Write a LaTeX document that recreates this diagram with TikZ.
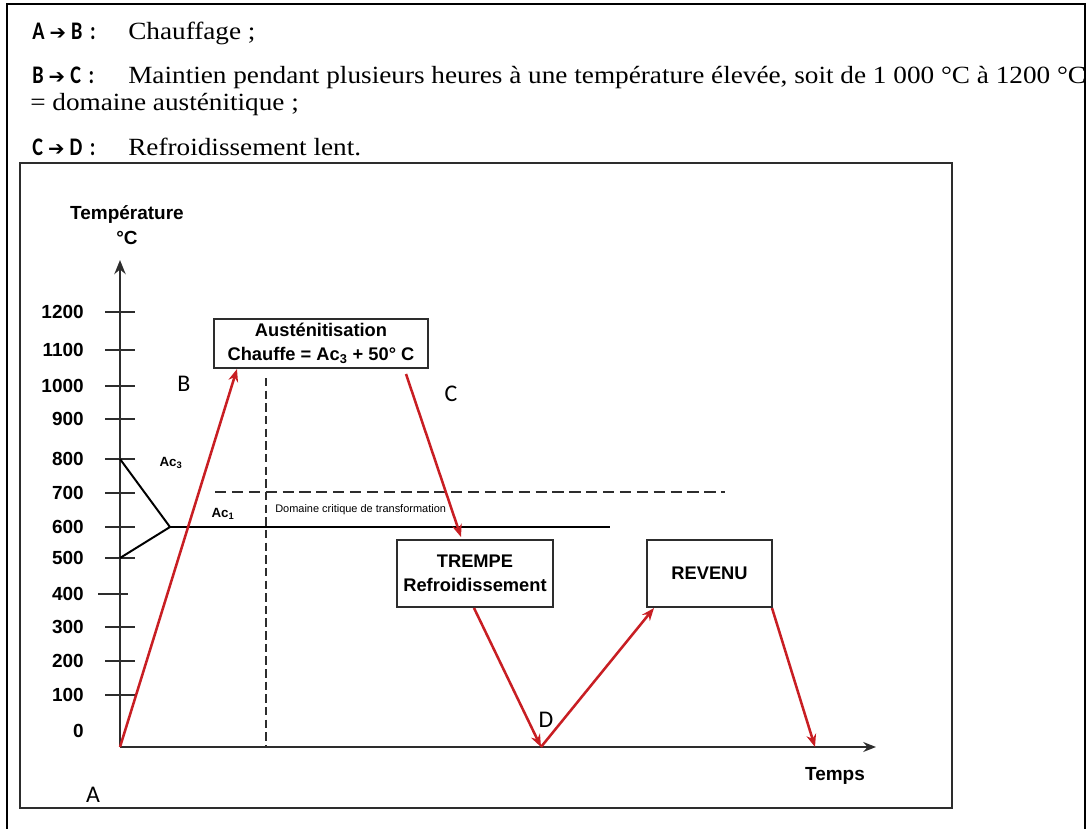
\documentclass[tikz,border=0pt]{standalone}
\usepackage{fontspec}
\setmainfont{Liberation Serif}[FakeStretch=1.1]
\newfontfamily\arialfont{Liberation Sans}
\newfontfamily\calfont{Carlito}
\newfontfamily\calcond{Carlito}[FakeStretch=0.8]
\newfontfamily\symfont{DejaVu Sans}
\usetikzlibrary{arrows.meta,calc}
\definecolor{fleche}{RGB}{200,30,35}
\definecolor{trait}{RGB}{45,45,45}
\newcommand{\etape}[2]{{\calcond\bfseries\fontsize{18}{21}\selectfont #1\hspace{0.2em}{\symfont\bfseries\fontsize{14}{16}\selectfont ➔}\hspace{0.2em}#2\hspace{0.3em}:}}

\begin{document}
\begin{tikzpicture}[x=0.025cm,y=-0.025cm,
                    every node/.style={inner sep=0pt},
                    cadre/.style={draw=trait,line width=1.3pt},
                    boite/.style={draw=trait,line width=1.4pt,align=center,
                                  font=\arialfont\bfseries\fontsize{13}{17}\selectfont},
                    axe/.style={draw=trait,line width=1.6pt},
                    grad/.style={anchor=east,font=\arialfont\bfseries\fontsize{13.5}{16}\selectfont},
                    petit/.style={font=\arialfont\bfseries\fontsize{9.5}{11}\selectfont},
                    rouge/.style={draw=fleche,line width=1.8pt,-{Stealth[length=9pt,width=7pt]}},
                    lettre/.style={font=\calfont\fontsize{17}{20}\selectfont},
                    texte/.style={anchor=base west,font=\fontsize{17.6}{21}\selectfont}]

  \useasboundingbox (0,0) rectangle (1086,829);
  \draw[line width=1.2pt] (7,829) -- (7,4) -- (1085,4) -- (1085,829);

  \node[texte] (etAB) at (32,39) {\etape{A}{B}};
  \node[texte] (txAB) at (128,39) {Chauffage ;};
  \node[texte] (etBC) at (32,83) {\etape{B}{C}};
  \node[texte] (txBC) at (128,83) {Maintien pendant plusieurs heures à une température élevée, soit de 1 000 °C à 1200 °C};
  \node[texte] (txBC2) at (30,110) {= domaine austénitique ;};
  \node[texte] (etCD) at (32,155) {\etape{C}{D}};
  \node[texte] (txCD) at (128,155) {Refroidissement lent.};

  \draw[cadre] (20,163) rectangle (952,808);

  \coordinate (A) at (120,747);
  \coordinate (D) at (541,747);
  \coordinate (E) at (815,747);
  \draw[axe,-{Stealth[length=10pt,width=8pt]}] (A) -- (120,260);
  \draw[axe,-{Stealth[length=9pt,width=7pt]}] (A) -- (876,747);
  \node[font=\arialfont\bfseries\fontsize{13.5}{16}\selectfont] (temp) at (127,215) {Température};
  \node[font=\arialfont\bfseries\fontsize{13.5}{16}\selectfont] (degre) at (127,238) {°C};
  \node[font=\arialfont\bfseries\fontsize{13.5}{16}\selectfont] (temps) at (835,776) {Temps};

  \foreach \v/\y/\dx in {1200/312/0,1100/350/0,1000/386/0,900/419/0,800/459/0,700/493/0,
                         600/527/0,500/558/0,400/594/-7,300/627/0,200/661/0,100/695/0}
    {
      \draw[trait,line width=1.5pt] (105+\dx,\y) -- (135+\dx,\y);
      \node[grad] (t\v) at (84,\y) {\v};
    }
  \node[grad] (t0) at (84,731) {0};

  \coordinate (ac3) at (120,459);
  \coordinate (ac1) at (120,558);
  \coordinate (pointe) at (170,527);
  \coordinate (finac) at (610,527);
  \draw[black,line width=1.4pt] (ac3) -- (pointe) -- (ac1);
  \draw[black,line width=1.4pt] (pointe) -- (finac);
  \draw[trait,line width=1.5pt,dash pattern=on 8pt off 4pt] (215,492) -- (725,492);
  \draw[trait,line width=1.5pt,dash pattern=on 6pt off 3pt] (266,378) -- (266,747);
  \node[petit] (lac3) at (171,463) {Ac\textsubscript{3}};
  \node[petit] (lac1) at (223,514) {Ac\textsubscript{1}};
  \node[anchor=west,font=\arialfont\fontsize{7.8}{9}\selectfont] (domaine) at (275,510)
    {Domaine critique de transformation};

  \node[boite,minimum width=5.35cm,minimum height=1.225cm] (aust) at (321,343.5)
    {Austénitisation\\Chauffe = Ac\textsubscript{3} + 50° C};
  \node[boite,minimum width=3.9cm,minimum height=1.675cm] (trempe) at (475,573.5)
    {TREMPE\\Refroidissement};
  \node[boite,minimum width=3.125cm,minimum height=1.675cm] (revenu) at (709.5,573.5)
    {REVENU};

  \draw[rouge] (A) -- ($(aust.south west)+(24,0)$);
  \draw[rouge] ($(aust.south east)+(-23,5)$) -- ($(trempe.north west)+(65,-2)$);
  \draw[rouge] ($(trempe.south west)+(78,0)$) -- (D);
  \draw[rouge] (D) -- ($(revenu.south west)+(8,0)$);
  \draw[rouge] ($(revenu.south east)+(-1,0)$) -- (E);

  \node[lettre] (lA) at (93,795) {A};
  \node[lettre] (lB) at (184,384) {B};
  \node[lettre] (lC) at (451,394) {C};
  \node[lettre] (lD) at (546,720) {D};
\end{tikzpicture}
\end{document}
